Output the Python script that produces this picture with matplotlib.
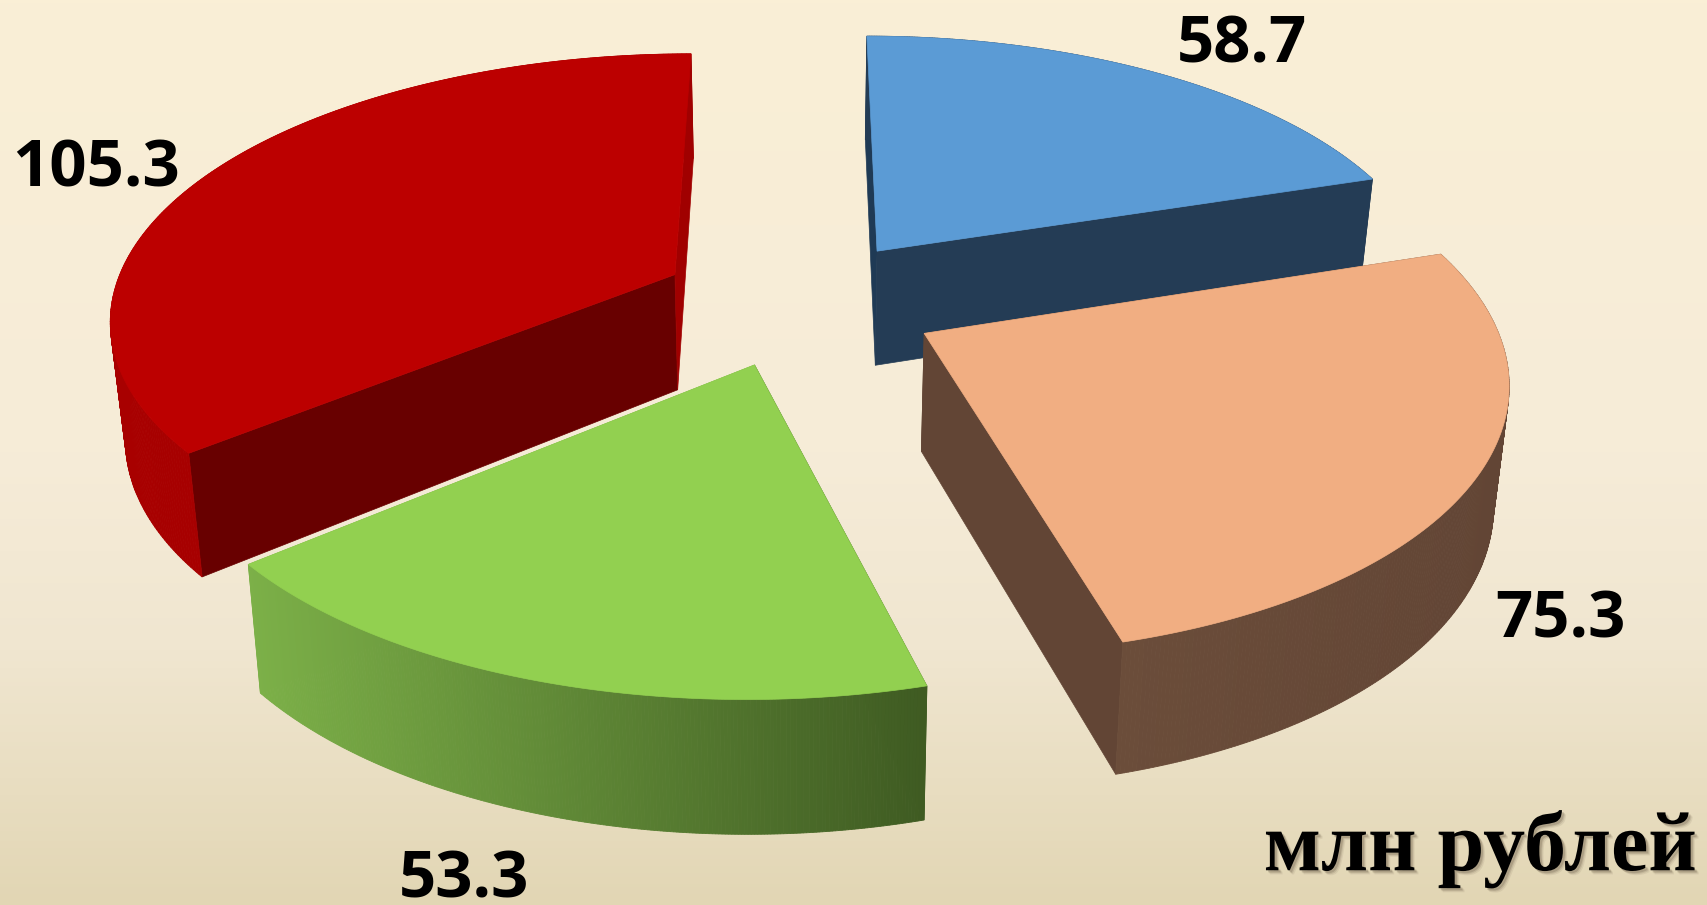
import numpy as np
import matplotlib
matplotlib.use('Agg')
import matplotlib.pyplot as plt
import matplotlib.patheffects as pe

values = [58.7, 75.3, 53.3, 105.3]
labels = ['58.7', '75.3', '53.3', '105.3']
explode = [0.245, 0.25, 0.245, 0.245]
label_pos = [(1242, 46), (1560, 621), (464, 881), (96, 170)]

top_colors = ['#5B9BD5', '#F1AE82', '#92D050', '#BC0000']
cut_start_colors = ['#1F3A55', '#624535', '#3F5B22', '#680000']
cut_end_colors = ['#243C55', '#624535', '#7CB048', '#A00000']
side_left = ['#243C55', '#6B4D3A', '#7CB048', '#A80000']
side_right = ['#243C55', '#624535', '#3F5B22', '#A00000']

# pie plane -> picture, fitted by eye on the slice corners
CX, CY = 798, 301.5
SX, SY = 564, 262
PERSP = 0.1525
DEPTH = 116.5
BOTTOM_X = 0.978


def project(x, y, bottom=False):
    w = 1 + PERSP * y
    px = x / w * SX
    py = CY - SY * y / w
    if bottom:
        px = px * BOTTOM_X
        py = py + DEPTH / w ** 0.7
    return CX + px, py


def lerp_color(c1, c2, t):
    a = np.array(matplotlib.colors.to_rgb(c1))
    b = np.array(matplotlib.colors.to_rgb(c2))
    return tuple(a + (b - a) * t)


def draw_slice(ax, start, end, i):
    mid = np.radians((start + end) / 2)
    ox, oy = explode[i] * np.sin(mid), explode[i] * np.cos(mid)
    phi = np.radians(np.linspace(start, end, 240))
    x = ox + np.sin(phi)
    y = oy + np.cos(phi)
    tx, ty = project(x, y)
    bx, by = project(x, y, bottom=True)
    ax_t, ay_t = project(ox, oy)
    ax_b, ay_b = project(ox, oy, bottom=True)

    # two cut faces
    ax.fill([ax_t, tx[0], bx[0], ax_b], [ay_t, ty[0], by[0], ay_b],
            color=cut_start_colors[i], lw=0.5, zorder=i * 3 + 1)
    ax.fill([ax_t, tx[-1], bx[-1], ax_b], [ay_t, ty[-1], by[-1], ay_b],
            color=cut_end_colors[i], lw=0.5, zorder=i * 3 + 1)

    # outer wall, shaded left to right in small strips
    x0, x1 = tx.min(), tx.max()
    for j in range(len(phi) - 1):
        c = lerp_color(side_left[i], side_right[i], (tx[j] - x0) / (x1 - x0))
        ax.fill([tx[j], tx[j + 1], bx[j + 1], bx[j]],
                [ty[j], ty[j + 1], by[j + 1], by[j]],
                color=c, lw=0.6, zorder=i * 3 + 2)

    ax.fill(np.r_[ax_t, tx], np.r_[ay_t, ty], color=top_colors[i], lw=0.5,
            zorder=i * 3 + 3)


fig = plt.figure(figsize=(17.07, 9.05), dpi=100)
ax = fig.add_axes([0, 0, 1, 1])

# background fades from cream to a darker sand at the bottom
stops_y = [0, 0.5, 0.72, 0.88, 1]
stops_r = [250, 246, 240, 232, 226]
stops_g = [239, 236, 230, 221, 214]
stops_b = [214, 216, 208, 192, 180]
yy = np.linspace(0, 1, 256)
bg = np.stack([np.interp(yy, stops_y, stops_r), np.interp(yy, stops_y, stops_g),
               np.interp(yy, stops_y, stops_b)], axis=1)[:, None, :] / 255
ax.imshow(bg, extent=[0, 1707, 905, 0], aspect='auto', zorder=0)

total = sum(values)
edges = np.r_[0, np.cumsum(values)] / total * 360
# back slices first: blue, red, orange, green
for i in [0, 3, 1, 2]:
    draw_slice(ax, edges[i], edges[i + 1], i)

for txt, (lx, ly) in zip(labels, label_pos):
    ax.text(lx, ly, txt, family='Open Sans', weight='bold', fontsize=47, ha='center',
            va='center', color='black', zorder=30)

# soft shadow under the unit caption
shadow = [pe.SimplePatchShadow(offset=(off, -off), shadow_rgbFace='#403020', alpha=a)
          for off, a in [(3, 0.08), (2.2, 0.12), (1.5, 0.18)]]
ax.text(1697, 849, 'млн рублей', family='Liberation Serif', weight='bold', fontsize=60.5,
        ha='right', va='center', color='black', zorder=30,
        path_effects=shadow + [pe.Normal()])

ax.set_xlim(0, 1707)
ax.set_ylim(905, 0)
ax.axis('off')
fig.savefig('out.png', dpi=100)
